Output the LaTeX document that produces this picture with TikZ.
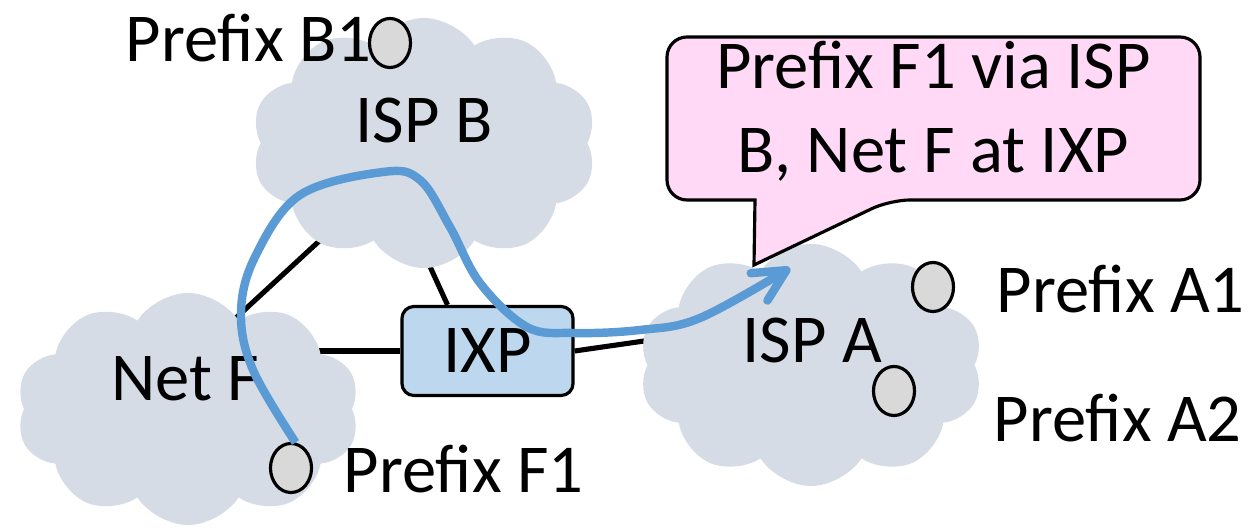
\documentclass[tikz,border=0pt]{standalone}
\usepackage{fontspec}
\setmainfont{Carlito}
\usetikzlibrary{positioning}
\usetikzlibrary{arrows.meta}
\usetikzlibrary{calc}
\usetikzlibrary{shapes.symbols}
\usetikzlibrary{shapes.geometric}
\usetikzlibrary{backgrounds}

\definecolor{cloudgray}{HTML}{D6DCE5}
\definecolor{ixpblue}{HTML}{BDD7EE}
\definecolor{notepink}{HTML}{FFD9F5}
\definecolor{routeblue}{HTML}{5B9BD5}
\definecolor{prefixgray}{HTML}{D9D9D9}

\begin{document}
\begin{tikzpicture}[
    x=0.01cm, y=-0.01cm,
    font=\fontsize{19.5pt}{24pt}\selectfont,
    net/.style={cloud, cloud puffs=10, cloud puff arc=115, cloud ignores aspect, fill=cloudgray, inner sep=0pt},
    link/.style={line width=1.45pt},
    ixpbox/.style={rectangle, rounded corners=0.12cm, draw=black, line width=0.9pt, fill=ixpblue, minimum width=1.71cm, minimum height=0.89cm},
    prefixdot/.style={ellipse, draw=black, fill=prefixgray, line width=0.9pt, minimum width=0.41cm, minimum height=0.49cm, inner sep=0pt},
    plabel/.style={anchor=base west, inner sep=0pt},
    notebox/.style={draw=black, line width=0.9pt, fill=notepink},
    route/.style={line width=2.4pt, draw=routeblue, -{Straight Barb[length=0.32cm, width=0.32cm, round]}},
]
    \useasboundingbox (0,0) rectangle (1251,531);

    \node[net, minimum width=3.45cm, minimum height=2.5cm] (ispB) at (424,143) {};
    \node[net, minimum width=3.43cm, minimum height=2.32cm] (netF) at (188,409) {};
    \node[net, minimum width=3.44cm, minimum height=2.42cm] (ispA) at (811,365) {};

    \node[] (ispBname) at ($(ispB)+(0,-23)$) {ISP B};
    \node[] (netFname) at ($(netF)+(-3,-30)$) {Net F};
    \node[] (ispAname) at ($(ispA)+(1,-25)$) {ISP A};

    \node[ixpbox] (ixp) at (487.5,351) {IXP};

    % links run under the clouds
    \begin{scope}[on background layer]
        \draw[link] ($(netF)+(12,-58)$) -- ($(ispB)+(-44,42)$);
        \draw[link] ($(ixp.north)+(-40,0)$) -- ($(ispB)+(-8,93)$);
        \draw[link] (ixp.west) -- ($(netF)+(0,-58)$);
        \draw[link] (ixp.east) -- ($(ispA)+(-111,-32)$);
    \end{scope}

    \node[plabel] (B1name) at (125,62) {Prefix B1};
    \node[plabel] (A1name) at (996,313) {Prefix A1};
    \node[plabel] (A2name) at (993,442) {Prefix A2};
    \node[plabel] (F1name) at (343,493) {Prefix F1};

    \node[prefixdot] (B1) at (390,43) {};
    \node[prefixdot] (A1) at (933,287) {};
    \node[prefixdot] (A2) at (894,391) {};
    \node[prefixdot] (F1) at (291,468) {};

    \coordinate (tip) at (754,265);
    \draw[notebox] (667,118) [rounded corners=0.2cm] -- (667,37) -- (1200,37) -- (1200,200) -- (890,200)
        [sharp corners] -- (tip) -- (755,200) [rounded corners=0.2cm] -- (667,200) -- cycle;
    \node[align=center, inner sep=0pt] (note) at (933.5,111) {Prefix F1 via ISP\\B, Net F at IXP};

    \coordinate (arrowend) at (790,268);
    \draw[route] plot[smooth, tension=0.6] coordinates {(F1.80) (253,370) (241,313) (255,257) (300,195)
        (383,172) (420,180) (450,227) (480,283) (527,327) (573,333) (640,330) (700,318) (arrowend)};

\end{tikzpicture}
\end{document}
